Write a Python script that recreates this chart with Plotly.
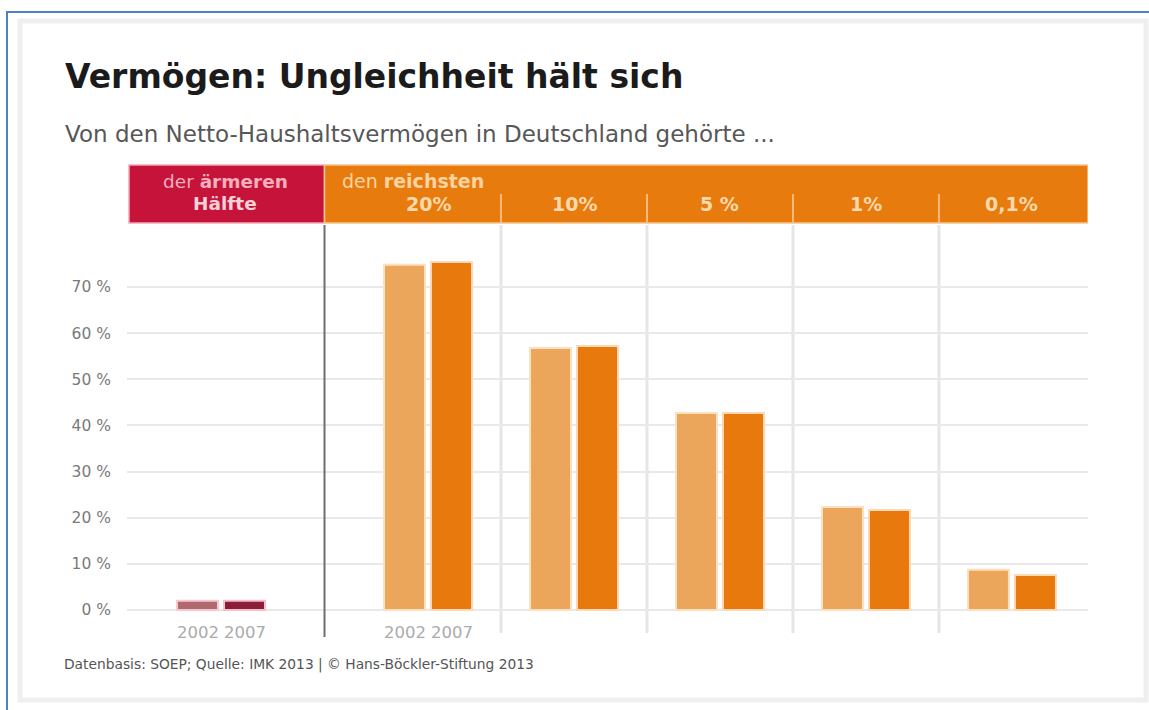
import plotly.graph_objects as go

# ---- data -------------------------------------------------------------
groups = ["der ärmeren Hälfte", "20%", "10%", "5 %", "1%", "0,1%"]
header_labels = ["20%", "10%", "5 %", "1%", "0,1%"]
years = ["2002", "2007"]
share_2002 = [2.0, 74.8, 56.8, 42.7, 22.3, 8.7]
share_2007 = [2.0, 75.4, 57.2, 42.7, 21.7, 7.6]
y_ticks = [0, 10, 20, 30, 40, 50, 60, 70]
y_tick_text = [f"{v} %" for v in y_ticks]

# ---- styling ----------------------------------------------------------
RED = "#c5133a"
ORANGE = "#e87b0e"
colors_2002 = ["#b06a6e"] + ["#eca65c"] * 5
colors_2007 = ["#8c1d38"] + ["#e8790c"] * 5
halo_2002 = ["#f6c9d0"] + ["#fde0c0"] * 5
halo_2007 = ["#f6c0cb"] + ["#fdd9b5"] * 5
FONT = "DejaVu Sans"

W, H = 1149, 710
L, R, T, B = 127, 61, 225, 98
PW, PH = W - L - R, H - T - B

# group positions along x (units = group spacing); the poorer half sits
# further to the left, behind the divider line
POOR_OFFSET = 1.418
pos = [1 - POOR_OFFSET] + [1 + i for i in range(len(header_labels))]
XMIN, XMAX = -1.062, 5.521
PX_PER_PCT = 4.614
YMIN = -2 / PX_PER_PCT
YMAX = YMIN + PH / PX_PER_PCT
DIVIDER = (pos[0] + pos[1]) / 2


def xd(px):
    """pixel column -> x data value"""
    return XMIN + (px - L) / PW * (XMAX - XMIN)


def xp(px):
    return (px - L) / PW


def yp(py):
    return (H - B - py) / PH


fig = go.Figure()
fig.add_trace(go.Bar(
    x=pos, y=share_2002, name=years[0],
    marker=dict(color=colors_2002, line=dict(color=halo_2002, width=2)),
    hoverinfo="skip",
))
fig.add_trace(go.Bar(
    x=pos, y=share_2007, name=years[1],
    marker=dict(color=colors_2007, line=dict(color=halo_2007, width=2)),
    hoverinfo="skip",
))

shapes = []
# outer frame: blue rule top/left, light grey panel border
shapes.append(dict(type="rect", xref="paper", yref="paper",
                   x0=xp(20), x1=xp(1146), y0=yp(21), y1=yp(700),
                   line=dict(color="#efefef", width=5), layer="below"))
shapes.append(dict(type="line", xref="paper", yref="paper",
                   x0=xp(6), x1=xp(1152), y0=yp(12), y1=yp(12),
                   line=dict(color="#4f81c4", width=2)))
shapes.append(dict(type="line", xref="paper", yref="paper",
                   x0=xp(7), x1=xp(7), y0=yp(11), y1=yp(715),
                   line=dict(color="#4f81c4", width=2)))

# header band
shapes.append(dict(type="rect", xref="x", yref="paper",
                   x0=xd(129), x1=DIVIDER, y0=yp(223), y1=yp(165),
                   fillcolor=RED, line=dict(color="#f2a8b6", width=1.5)))
shapes.append(dict(type="rect", xref="x", yref="paper",
                   x0=DIVIDER, x1=XMAX, y0=yp(223), y1=yp(165),
                   fillcolor=ORANGE, line=dict(color="#f8c58c", width=1.5)))

# separators between the top groups (chart area and header)
for i in range(len(header_labels) - 1):
    xs = (pos[i + 1] + pos[i + 2]) / 2
    shapes.append(dict(type="line", xref="x", yref="paper",
                       x0=xs, x1=xs, y0=yp(633), y1=1.0,
                       line=dict(color="#e6e6e6", width=3), layer="below"))
    shapes.append(dict(type="line", xref="x", yref="paper",
                       x0=xs, x1=xs, y0=yp(223), y1=yp(194),
                       line=dict(color="#f6b97a", width=2)))

# divider between poorer half and richest groups
shapes.append(dict(type="line", xref="x", yref="paper",
                   x0=DIVIDER, x1=DIVIDER, y0=yp(637), y1=1.0,
                   line=dict(color="#6e6e6e", width=2)))

annotations = []
annotations.append(dict(text="<b>Vermögen: Ungleichheit hält sich</b>",
                        xref="paper", yref="paper", x=xp(63), y=yp(76),
                        xanchor="left", yanchor="middle", showarrow=False,
                        font=dict(family=FONT, size=33, color="#1b1b1b")))
annotations.append(dict(text="Von den Netto-Haushaltsvermögen in Deutschland gehörte ...",
                        xref="paper", yref="paper", x=xp(63), y=yp(134),
                        xanchor="left", yanchor="middle", showarrow=False,
                        font=dict(family=FONT, size=23, color="#575757")))
annotations.append(dict(text="Datenbasis: SOEP; Quelle: IMK 2013 | © Hans-Böckler-Stiftung 2013",
                        xref="paper", yref="paper", x=xp(62), y=yp(664),
                        xanchor="left", yanchor="middle", showarrow=False,
                        font=dict(family=FONT, size=13.8, color="#555555")))

# header texts
annotations.append(dict(text="der <b>ärmeren</b>", xref="x", yref="paper",
                        x=xd(225), y=yp(181), xanchor="center", yanchor="middle",
                        showarrow=False, font=dict(family=FONT, size=18.5, color="#f5aebb")))
annotations.append(dict(text="<b>Hälfte</b>", xref="x", yref="paper",
                        x=xd(225), y=yp(203), xanchor="center", yanchor="middle",
                        showarrow=False, font=dict(family=FONT, size=18.5, color="#fad0d8")))
annotations.append(dict(text="den <b>reichsten</b>", xref="x", yref="paper",
                        x=xd(340), y=yp(181), xanchor="left", yanchor="middle",
                        showarrow=False, font=dict(family=FONT, size=19, color="#fdd3a0")))
for p, lab in zip(pos[1:], header_labels):
    annotations.append(dict(text=f"<b>{lab}</b>", xref="x", yref="paper",
                            x=p, y=yp(204), xanchor="center", yanchor="middle",
                            showarrow=False,
                            font=dict(family=FONT, size=19, color="#fdd9ac")))

# year labels under the first two groups
half = (1 - 0.356) / 4
for p in pos[:2]:
    for dx, yr in zip((-half, half), years):
        annotations.append(dict(text=yr, xref="x", yref="paper",
                                x=p + dx, y=yp(632), xanchor="center",
                                yanchor="middle", showarrow=False,
                                font=dict(family=FONT, size=16.5, color="#ababab")))

fig.update_layout(
    width=W, height=H, autosize=False,
    margin=dict(l=L, r=R, t=T, b=B, pad=0),
    paper_bgcolor="white", plot_bgcolor="white",
    barmode="group", bargap=0.356, bargroupgap=0.128,
    showlegend=False,
    shapes=shapes, annotations=annotations,
    xaxis=dict(range=[XMIN, XMAX], showgrid=False, zeroline=False,
               showticklabels=False, ticks="", showline=False, fixedrange=True),
    yaxis=dict(range=[YMIN, YMAX], tickvals=y_ticks, ticktext=y_tick_text,
               showgrid=True, gridcolor="#e9e9e9", gridwidth=2,
               zeroline=False, showline=False, ticks="",
               ticklabelstandoff=15,
               tickfont=dict(family=FONT, size=15.5, color="#7a7a7a"),
               fixedrange=True),
)

fig.write_html("out.html")
